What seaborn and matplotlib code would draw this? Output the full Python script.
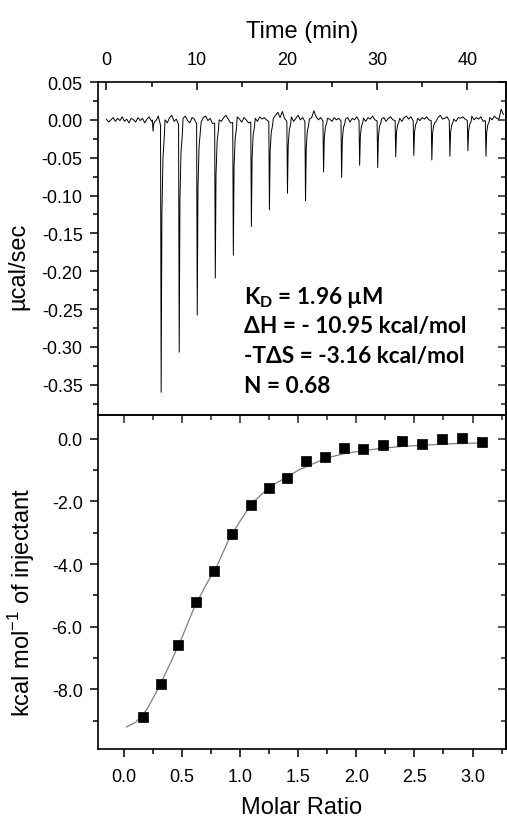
import numpy as np
import pandas as pd
import matplotlib
matplotlib.use("Agg")
import matplotlib.pyplot as plt
import seaborn as sns
from matplotlib.ticker import MultipleLocator, FormatStrFormatter

sns.set_theme(style="ticks")
plt.rcParams["font.family"] = ["Liberation Sans", "DejaVu Sans"]
plt.rcParams["axes.unicode_minus"] = False
plt.rcParams["axes.labelcolor"] = "black"
plt.rcParams["text.color"] = "black"

# raw thermogram: injection times (min) and peak minima (ucal/sec)
inj_times = [5.1, 6.0, 8.0, 10.0, 12.0, 14.0, 16.0, 18.0, 20.0, 22.0, 24.0,
             26.0, 28.0, 30.0, 32.0, 34.0, 36.0, 38.0, 40.0, 42.0]
inj_depths = [-0.015, -0.360, -0.307, -0.258, -0.209, -0.179, -0.141, -0.119,
              -0.097, -0.107, -0.069, -0.076, -0.060, -0.063, -0.049, -0.047,
              -0.053, -0.048, -0.041, -0.048]
# baseline wiggle every 0.25 min, in 0.001 ucal/sec
baseline = [1, -3, 0, 3, -2, 2, -1, 4, -2, 1, -4, 2, 0, -3, 3, -1, 2, -4, 1, 4, -2,
            -5, 1, 5, -3, 2, 0, -4, 3, 6, -2, 1, 4, -3, 2, 5, -1, -4, 3, 1, 4,
            0, -3, 3, 5, -1, 2, -5, 1, 4, 0, -2, 3, 6, 1, -4, 2, -1, 4, 1, -3,
            3, 0, -4, 1, 5, 2, -2, 4, 1, 3, 0, 2, -1, 2, 6, 10, 3, 11, 2, 0,
            1, 4, -2, 2, 6, 0, 3, 2, 5, 1, 3, 12, 4, 0, 3, 5, -1, 2, 1, -2,
            3, 0, 2, 4, -1, 1, 3, -3, 2, 0, 4, 1, -1, 2, -2, 3, 1, 5, 0, 2,
            -1, 1, 3, -2, 2, 4, 0, 1, 6, 2, -2, 3, 5, 1, 4, 7, 0, 2, -1, 3,
            1, 4, 0, 5, 2, -3, 3, 6, 1, 2, 4, 0, 5, 1, -2, 3, 2, 4, 1, -1,
            2, 5, 0, 3, 1, 4, -2, 2, 1, 3, 0, 5, 2, 1, 14, 7]
# spike shape after each injection (min after injection, fraction of depth)
shape_dt = [0.0, 0.07, 0.15, 0.27, 0.42]
shape_frac = [0.02, 1.0, 0.35, 0.14, 0.06]

# integrated heats
molar_ratio = [0.164, 0.316, 0.465, 0.618, 0.775, 0.93, 1.089, 1.246, 1.404,
               1.568, 1.732, 1.895, 2.06, 2.226, 2.395, 2.567, 2.736, 2.911, 3.084]
heat = [-8.88, -7.83, -6.58, -5.22, -4.21, -3.03, -2.10, -1.57, -1.25,
        -0.72, -0.58, -0.29, -0.32, -0.20, -0.06, -0.18, 0.0, 0.03, -0.09]
fit_ratio = [0.02, 0.1, 0.2, 0.3, 0.4, 0.5, 0.6, 0.7, 0.8, 0.9, 1.0, 1.1, 1.2,
             1.3, 1.4, 1.5, 1.6, 1.7, 1.8, 1.9, 2.0, 2.2, 2.4, 2.6, 2.8, 3.0, 3.1]
fit_heat = [-9.2, -9.05, -8.62, -7.93, -7.15, -6.33, -5.42, -4.70, -4.06, -3.23,
            -2.62, -2.06, -1.72, -1.43, -1.23, -1.0, -0.84, -0.68, -0.56, -0.47,
            -0.41, -0.31, -0.24, -0.20, -0.16, -0.14, -0.13]

# build the thermogram trace
pts = []
for i, v in enumerate(baseline):
    t = i * 0.25
    if any(ti - 0.05 < t < ti + 0.5 for ti in inj_times):
        continue
    pts.append((t, v * 0.001))
for ti, d in zip(inj_times, inj_depths):
    for dt, f in zip(shape_dt, shape_frac):
        pts.append((ti + dt, f * d))
pts.sort()
trace = pd.DataFrame(pts, columns=["time", "power"])

fig = plt.figure(figsize=(5.07, 8.2), dpi=100)
ax1 = fig.add_axes([98 / 507, 404 / 820, 408 / 507, 333 / 820])
ax2 = fig.add_axes([98 / 507, 70 / 820, 408 / 507, 334 / 820])

sns.lineplot(data=trace, x="time", y="power", ax=ax1, color="black",
             lw=0.7, estimator=None, sort=False)
sns.lineplot(x=fit_ratio, y=fit_heat, ax=ax2, color="#7f7f7f", lw=0.9)
sns.scatterplot(x=molar_ratio, y=heat, ax=ax2, marker="s", s=55,
                color="black", edgecolor="black", linewidth=0.5, zorder=3)

tick_font = 13
for ax in (ax1, ax2):
    for sp in ax.spines.values():
        sp.set_linewidth(1.2)
        sp.set_color("black")
    ax.tick_params(which="major", length=6, width=1.1, labelsize=tick_font,
                   color="black", labelcolor="black")
    ax.tick_params(which="minor", length=3.5, width=1.1, color="black")

# top panel
ax1.set_xlim(-0.93, 44.29)
ax1.set_ylim(-0.39, 0.05)
ax1.xaxis.set_major_locator(MultipleLocator(10))
ax1.xaxis.set_minor_locator(MultipleLocator(5))
ax1.yaxis.set_major_locator(MultipleLocator(0.05))
ax1.yaxis.set_minor_locator(MultipleLocator(0.025))
ax1.yaxis.set_major_formatter(FormatStrFormatter("%.2f"))
ax1.xaxis.tick_top()
ax1.xaxis.set_label_position("top")
ax1.tick_params(axis="x", which="both", direction="in", top=True, bottom=False,
                labeltop=True, labelbottom=False, pad=10)
ax1.tick_params(axis="y", which="both", direction="out", left=True, pad=5)
ax1.set_xlabel("Time (min)", fontsize=17)
ax1.xaxis.set_label_coords(0.5, 1.135)
ax1.set_ylabel("µcal/sec", fontsize=17)
ax1.yaxis.set_label_coords(-0.167, 0.45)
r1 = ax1.secondary_yaxis("right")
r1.yaxis.set_major_locator(MultipleLocator(0.05))
r1.yaxis.set_minor_locator(MultipleLocator(0.025))
r1.tick_params(which="both", direction="in", labelright=False, width=1.1)
r1.tick_params(which="major", length=6)
r1.tick_params(which="minor", length=3.5)

# bottom panel
ax2.set_xlim(-0.224, 3.288)
ax2.set_ylim(-9.9, 0.76)
ax2.xaxis.set_major_locator(MultipleLocator(0.5))
ax2.xaxis.set_minor_locator(MultipleLocator(0.25))
ax2.yaxis.set_major_locator(MultipleLocator(2.0))
ax2.yaxis.set_minor_locator(MultipleLocator(1.0))
ax2.xaxis.set_major_formatter(FormatStrFormatter("%.1f"))
ax2.yaxis.set_major_formatter(FormatStrFormatter("%.1f"))
ax2.tick_params(axis="x", which="both", direction="out", pad=8)
ax2.tick_params(axis="y", which="both", direction="out", pad=5)
ax2.set_xlabel("Molar Ratio", fontsize=17)
ax2.xaxis.set_label_coords(0.5, -0.14)
ax2.set_ylabel("kcal mol$^{\\mathregular{-1}}$ of injectant", fontsize=17)
ax2.yaxis.set_label_coords(-0.15, 0.443)
t2 = ax2.secondary_xaxis("top")
t2.xaxis.set_major_locator(MultipleLocator(0.5))
t2.xaxis.set_minor_locator(MultipleLocator(0.25))
t2.tick_params(which="both", direction="in", labeltop=False, width=1.1)
t2.tick_params(which="major", length=6)
t2.tick_params(which="minor", length=3.5)
r2 = ax2.secondary_yaxis("right")
r2.yaxis.set_major_locator(MultipleLocator(2.0))
r2.yaxis.set_minor_locator(MultipleLocator(1.0))
r2.tick_params(which="both", direction="in", labelright=False, width=1.1)
r2.tick_params(which="major", length=6)
r2.tick_params(which="minor", length=3.5)

# fit parameters
ann_font = dict(fontsize=16.3, fontweight="bold", color="black",
                family=["Lato", "Open Sans", "DejaVu Sans"],
                transform=ax1.transAxes, va="center", ha="left")
lines = ["K$_\\mathregular{D}$ = 1.96 µM", "ΔH = - 10.95 kcal/mol",
         "-TΔS = -3.16 kcal/mol", "N = 0.68"]
ys = [297, 327, 357, 387]
for txt, yp in zip(lines, ys):
    ax1.text(0.358, (416 - yp) / 333, txt, **ann_font)

fig.savefig("out.png", dpi=100)
